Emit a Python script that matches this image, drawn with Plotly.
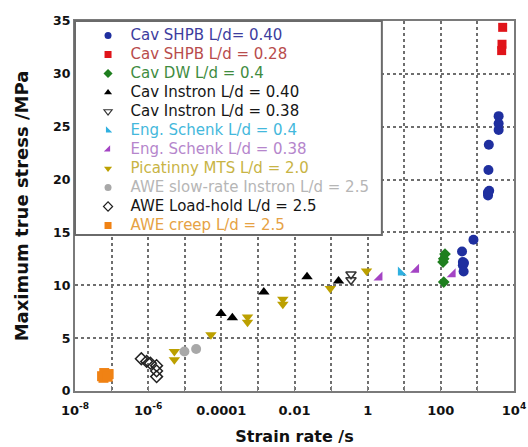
import plotly.graph_objects as go

# ---- data (strain rate /s, max true stress /MPa) ----
shpb40_x = [380, 400, 430, 400, 420, 780, 2050, 2000, 2100, 1950, 1950, 1950, 3800, 3800, 3800]
shpb40_y = [13.2, 12.2, 12.1, 11.9, 11.3, 14.3, 23.3, 20.9, 18.95, 18.7, 18.5, 18.8, 26.0, 25.3, 24.7]
shpb28_x = [4900, 4700, 4600]
shpb28_y = [34.4, 32.8, 32.2]
dw_x = [130, 120, 115, 120]
dw_y = [12.95, 12.5, 12.2, 10.3]
inst40_x = [9.8e-5, 2.0e-4, 1.45e-3, 0.022, 0.16]
inst40_y = [7.33, 6.92, 9.36, 10.8, 10.4]
inst38_x = [0.35, 0.35]
inst38_y = [11.05, 10.5]
schenk4_x = [8.1]
schenk4_y = [11.2]
schenk38_x = [2.1, 21, 210]
schenk38_y = [10.73, 11.46, 11.05]
pica_x = [5.2e-6, 5.2e-6, 5.2e-5, 5.2e-4, 5.2e-4, 4.8e-3, 4.8e-3, 0.095, 0.93]
pica_y = [3.74, 2.95, 5.33, 7.0, 6.5, 8.67, 8.2, 9.7, 11.36]
slow_x = [9.8e-6, 2.05e-5]
slow_y = [3.74, 3.97]
hold_x = [6.5e-7, 9.1e-7, 1.15e-6, 1.7e-6, 1.7e-6, 1.7e-6]
hold_y = [3.05, 2.8, 2.63, 2.4, 1.9, 1.36]
creep_x = [5.5e-8, 6.3e-8, 7.2e-8, 8.3e-8, 6.0e-8, 7.8e-8]
creep_y = [1.4, 1.7, 1.55, 1.6, 1.25, 1.35]

x_tickvals = [1e-8, 1e-7, 1e-6, 1e-5, 1e-4, 1e-3, 1e-2, 1e-1, 1, 10, 100, 1000, 1e4]
x_ticktext = ["10<sup>-8</sup>", "", "10<sup>-6</sup>", "", "0.0001", "", "0.01", "", "1", "", "100", "", "10<sup>4</sup>"]

series = [
    ("Cav SHPB L/d= 0.40", "#3d3d9e", shpb40_x, shpb40_y, "circle", "#1f2f9f", 10),
    ("Cav SHPB L/d = 0.28", "#b84c4c", shpb28_x, shpb28_y, "square", "#e0141a", 9),
    ("Cav DW L/d = 0.4", "#3f8c3f", dw_x, dw_y, "diamond", "#1f7f1f", 9),
    ("Cav Instron L/d = 0.40", "#161616", inst40_x, inst40_y, "triangle-up", "#000000", 10),
    ("Cav Instron L/d = 0.38", "#161616", inst38_x, inst38_y, "triangle-down-open", "#333333", 9),
    ("Eng. Schenk L/d = 0.4", "#44b8dc", schenk4_x, schenk4_y, "triangle-sw", "#2fb0e0", 10),
    ("Eng. Schenk L/d = 0.38", "#b586cc", schenk38_x, schenk38_y, "triangle-se", "#a444c4", 10),
    ("Picatinny MTS L/d = 2.0", "#c8b445", pica_x, pica_y, "triangle-down", "#bca000", 10),
    ("AWE slow-rate Instron L/d = 2.5", "#b6b6b6", slow_x, slow_y, "circle", "#a8a8a8", 10),
    ("AWE Load-hold L/d = 2.5", "#161616", hold_x, hold_y, "diamond-open", "#222222", 9),
    ("AWE creep L/d = 2.5", "#e6a244", creep_x, creep_y, "square", "#f08214", 10),
]

fig = go.Figure()
for name, tcol, xs, ys, sym, mcol, size in series:
    lw = 1.5 if "open" in sym else 0
    fig.add_trace(go.Scatter(
        x=xs, y=ys, mode="markers", showlegend=False,
        marker=dict(symbol=sym, color=mcol, size=size, line=dict(width=lw, color=mcol)),
    ))
# legend entries (no data points)
for name, tcol, xs, ys, sym, mcol, size in series:
    lw = 1.2 if "open" in sym else 0
    fig.add_trace(go.Scatter(
        x=[None], y=[None], mode="markers", showlegend=True,
        name=f"<span style='color:{tcol};font-size:15px;font-family:DejaVu Sans'>{name}</span>",
        marker=dict(symbol=sym, color=mcol, size=7, line=dict(width=lw, color=mcol)),
    ))

grid = dict(showgrid=True, gridcolor="#6e6e6e", gridwidth=1.5, griddash="dot")
fig.update_xaxes(type="log", range=[-8, 4], tickvals=x_tickvals, ticktext=x_ticktext,
                 ticks="inside", ticklen=5, tickcolor="#808080", ticklabelstandoff=6,
                 showline=True, linecolor="#7a7a7a", linewidth=2, mirror=True, automargin=False,
                 tickfont=dict(family="DejaVu Sans", size=13, color="#111", weight="bold"),
                 title=dict(text="Strain rate /s", font=dict(family="DejaVu Sans", size=16, color="#111", weight="bold"), standoff=14),
                 zeroline=False, **grid)
fig.update_yaxes(range=[0, 35], dtick=5, ticks="", showline=True, linecolor="#7a7a7a",
                 linewidth=2, mirror=True, automargin=False,
                 tickfont=dict(family="DejaVu Sans", size=12.5, color="#111", weight="bold"),
                 title=dict(text="Maximum true stress /MPa", font=dict(family="DejaVu Sans", size=18, color="#111", weight="bold"), standoff=20),
                 zeroline=False, **grid)

fig.update_layout(
    width=528, height=447,
    margin=dict(l=75, r=14, t=21, b=56),
    plot_bgcolor="white", paper_bgcolor="white",
    showlegend=True,
    legend=dict(x=0.024, y=1, xanchor="left", yanchor="top",
                bgcolor="rgba(0,0,0,0)", borderwidth=0, itemwidth=35,
                font=dict(family="DejaVu Sans", size=11.8, color="#111"),
                tracegroupgap=0),
    shapes=[dict(type="rect", xref="paper", yref="paper", x0=0, x1=0.699, y0=0.4216, y1=1,
                 fillcolor="white", line=dict(color="#6a6a6a", width=2), layer="above")],
)

fig.write_html("out.html")
